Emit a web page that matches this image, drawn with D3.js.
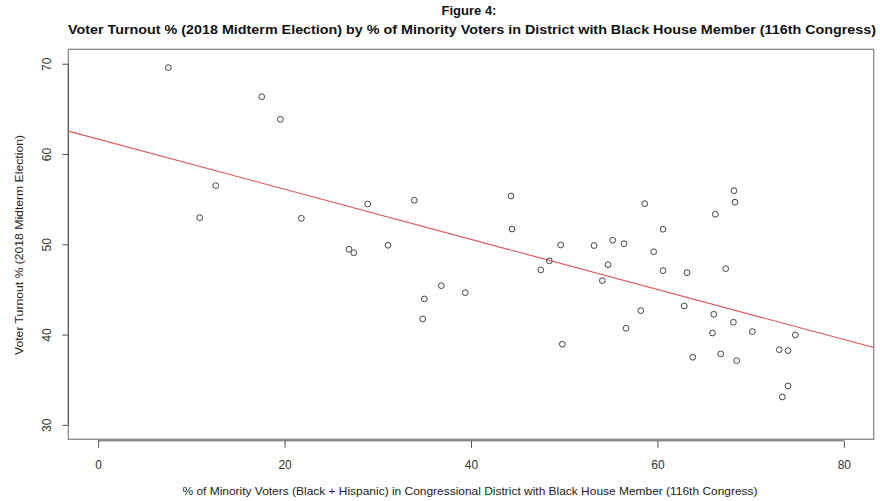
<!DOCTYPE html>
<html>
<head>
<meta charset="utf-8">
<script src="https://cdn.jsdelivr.net/npm/d3@7"></script>
<style>
  html, body { margin: 0; padding: 0; background: #fff; }
  svg { display: block; font-family: "Liberation Sans", Arial, sans-serif; }
</style>
</head>
<body>
<svg id="chart" width="880" height="501"></svg>
<script>
// % minority voters (Black + Hispanic) in each district
const minorityPct = [
  7.53, 17.55, 19.55, 12.62, 10.90, 21.80, 28.92, 33.92, 26.91, 27.42,
  31.10, 36.82, 39.39, 34.99, 34.82, 44.29, 44.40, 49.62, 48.40, 47.48,
  49.80, 68.21, 68.32, 58.64, 66.21, 60.60, 53.20, 55.20, 56.41, 59.60,
  54.70, 54.09, 60.60, 63.17, 67.32, 62.88, 66.04, 58.21, 56.63, 68.15,
  65.90, 70.18, 74.79, 73.07, 74.01, 63.79, 66.79, 68.50, 74.01, 73.40
];
// 2018 midterm voter turnout % for the same districts
const turnoutPct = [
  69.57, 66.35, 63.85, 56.50, 52.95, 52.88, 54.47, 54.88, 49.45, 49.07,
  49.89, 45.42, 44.64, 43.95, 41.73, 55.35, 51.69, 49.93, 48.16, 47.16,
  38.93, 55.94, 54.66, 54.50, 53.33, 51.67, 49.86, 50.45, 50.07, 49.18,
  47.74, 45.97, 47.08, 46.86, 47.30, 43.17, 42.25, 42.65, 40.70, 41.37,
  40.18, 40.33, 39.96, 38.33, 38.22, 37.49, 37.86, 37.11, 34.31, 33.09
];
// Fitted linear trend: turnout = intercept + slope * minority
const fitIntercept = 61.65;
const fitSlope = -0.2775;

const xTicks = [0, 20, 40, 60, 80];
const yTicks = [30, 40, 50, 60, 70];
const xLimits = [0, 80];
const yLimits = [30, 70];

const titleLines = [
  "Figure 4:",
  "Voter Turnout % (2018 Midterm Election) by % of Minority Voters in District with Black House Member (116th Congress)"
];
const xTitle = "% of Minority Voters (Black + Hispanic) in Congressional District with Black House Member (116th Congress)";
const yTitle = "Voter Turnout % (2018 Midterm Election)";

const points = minorityPct.map((x, i) => ({ x, y: turnoutPct[i] }));

const svg = d3.select("#chart");
const box = { left: 68.3, right: 873.7, top: 49.3, bottom: 439.3 };

// 4% padding on each side of the limits, as in base graphics
const pad = (lim) => { const r = lim[1] - lim[0]; return [lim[0] - 0.04 * r, lim[1] + 0.04 * r]; };

const x = d3.scaleLinear().domain(pad(xLimits)).range([box.left, box.right]);
const y = d3.scaleLinear().domain(pad(yLimits)).range([box.bottom, box.top]);

// Title
svg.append("text")
  .attr("x", 469).attr("y", 14.5)
  .attr("text-anchor", "middle")
  .attr("font-weight", "bold").attr("font-size", 13)
  .attr("fill", "#111")
  .text(titleLines[0]);
svg.append("text")
  .attr("x", 472).attr("y", 33.5)
  .attr("text-anchor", "middle")
  .attr("font-weight", "bold").attr("font-size", 13)
  .attr("fill", "#111")
  .attr("textLength", 808).attr("lengthAdjust", "spacingAndGlyphs")
  .text(titleLines[1]);

// Plot box
svg.append("rect")
  .attr("x", box.left).attr("y", box.top)
  .attr("width", box.right - box.left).attr("height", box.bottom - box.top)
  .attr("fill", "none").attr("stroke", "#8a8a8a").attr("stroke-width", 1.3);

// X axis
const xAxis = svg.append("g")
  .attr("transform", `translate(0,${box.bottom + 1.5})`)
  .call(d3.axisBottom(x).tickValues(xTicks).tickSize(7).tickPadding(13).tickSizeOuter(0));
xAxis.select(".domain").remove();
xAxis.append("line")
  .attr("x1", x(xTicks[0])).attr("x2", x(xTicks[xTicks.length - 1]))
  .attr("stroke", "#555").attr("stroke-width", 1);
xAxis.selectAll(".tick line").attr("stroke", "#555");
xAxis.selectAll(".tick text")
  .attr("font-size", 12).attr("fill", "#333")
  .attr("font-family", "Liberation Sans, Arial, sans-serif");

// Y axis (labels rotated, parallel to the axis)
const yAxis = svg.append("g")
  .attr("transform", `translate(${box.left},0)`)
  .call(d3.axisLeft(y).tickValues(yTicks).tickSize(6).tickSizeOuter(0));
yAxis.select(".domain")
  .attr("d", `M0,${y(yTicks[0])}V${y(yTicks[yTicks.length - 1])}`)
  .attr("stroke", "#555");
yAxis.selectAll(".tick line").attr("stroke", "#555");
yAxis.selectAll(".tick text")
  .attr("x", null).attr("dy", null)
  .attr("transform", "translate(-17,0) rotate(-90)")
  .attr("text-anchor", "middle")
  .attr("font-size", 12).attr("fill", "#333")
  .attr("font-family", "Liberation Sans, Arial, sans-serif");

// Axis titles
svg.append("text")
  .attr("x", 470).attr("y", 495)
  .attr("text-anchor", "middle")
  .attr("font-size", 11).attr("fill", "#222")
  .attr("textLength", 575).attr("lengthAdjust", "spacingAndGlyphs")
  .text(xTitle);
svg.append("text")
  .attr("transform", `translate(22.5,${245}) rotate(-90)`)
  .attr("text-anchor", "middle")
  .attr("font-size", 11).attr("fill", "#222")
  .attr("textLength", 220).attr("lengthAdjust", "spacingAndGlyphs")
  .text(yTitle);

// Clip to the plot region
svg.append("clipPath").attr("id", "plotClip")
  .append("rect")
  .attr("x", box.left).attr("y", box.top)
  .attr("width", box.right - box.left).attr("height", box.bottom - box.top);

// Trend line across the full plot width
const [xd0, xd1] = x.domain();
svg.append("line")
  .attr("clip-path", "url(#plotClip)")
  .attr("x1", x(xd0)).attr("y1", y(fitIntercept + fitSlope * xd0))
  .attr("x2", x(xd1)).attr("y2", y(fitIntercept + fitSlope * xd1))
  .attr("stroke", "#e05555").attr("stroke-width", 1.1);

// Open-circle points
svg.append("g")
  .selectAll("circle")
  .data(points)
  .join("circle")
  .attr("cx", d => x(d.x))
  .attr("cy", d => y(d.y))
  .attr("r", 2.9)
  .attr("fill", "none")
  .attr("stroke", "#444")
  .attr("stroke-width", 1);
</script>
</body>
</html>
